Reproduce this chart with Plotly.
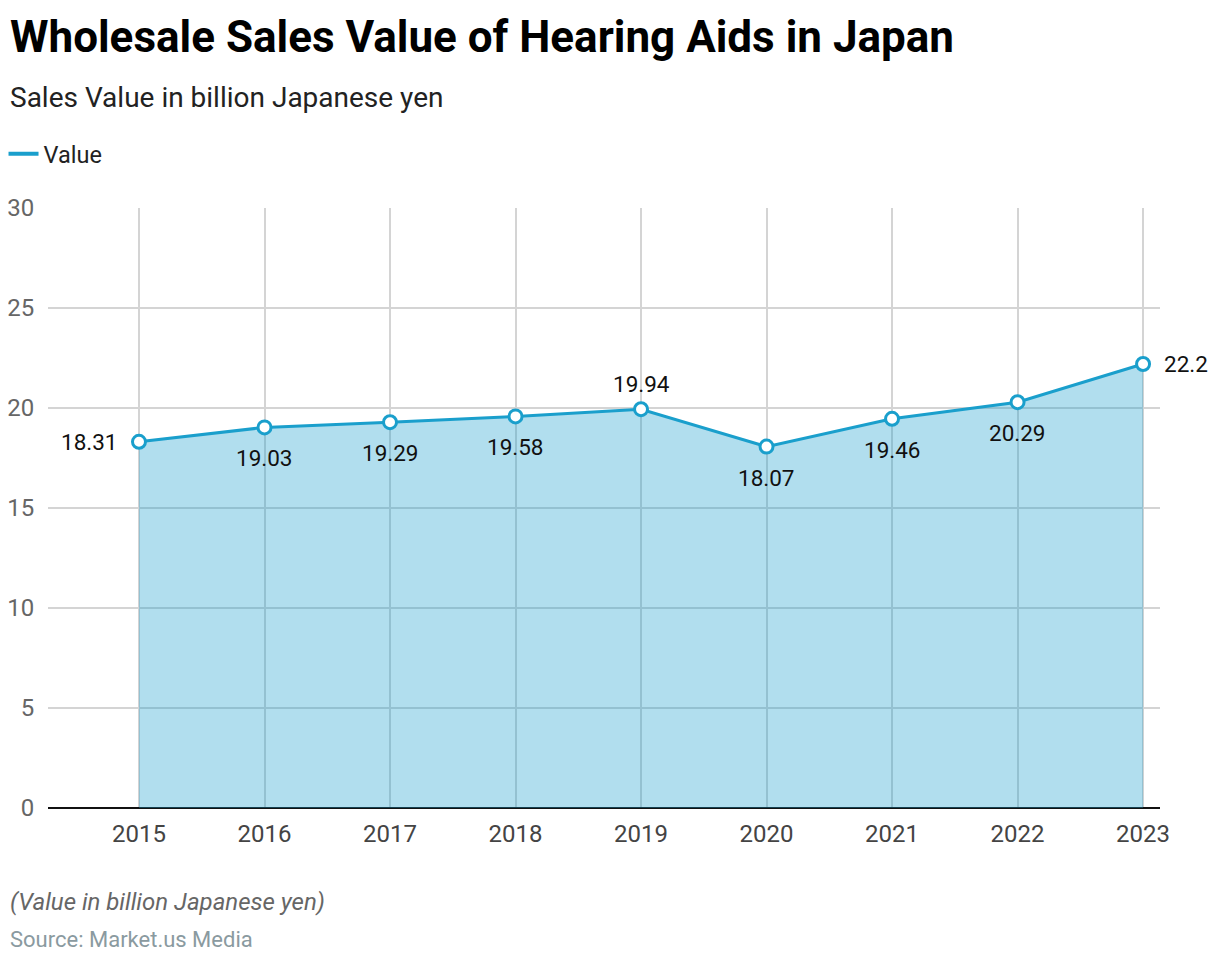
import plotly.graph_objects as go

years = [2015, 2016, 2017, 2018, 2019, 2020, 2021, 2022, 2023]
values = [18.31, 19.03, 19.29, 19.58, 19.94, 18.07, 19.46, 20.29, 22.2]
labels = ["18.31", "19.03", "19.29", "19.58", "19.94", "18.07", "19.46", "20.29", "22.2"]
label_side = ["left", "below", "below", "below", "above", "below", "below", "below", "right"]

LINE = "#1a9fcc"
FILL = "rgba(26,159,204,0.34)"

PW = 1112  # plot width px
PH = 600   # plot height px

fig = go.Figure()
fig.add_trace(go.Scatter(
    x=years, y=values, mode="lines+markers", name="Value", showlegend=False,
    line=dict(color=LINE, width=3),
    fill="tozeroy", fillcolor=FILL,
    marker=dict(size=13, color="white", line=dict(color=LINE, width=3)),
    cliponaxis=False,
))
fig.add_trace(go.Scatter(
    x=[None], y=[None], mode="lines", name="Value", showlegend=True,
    line=dict(color=LINE, width=4),
))

shift = {"left": (-19, 0, "right"), "right": (19, 0, "left"),
         "below": (0, -31, "center"), "above": (0, 25, "center")}
for x, y, t, s in zip(years, values, labels, label_side):
    dx, dy, xa = shift[s]
    fig.add_annotation(x=x, y=y, text=t, showarrow=False, xshift=dx, yshift=dy,
                       xanchor=xa, yanchor="middle",
                       font=dict(size=22.5, color="#111111", family="Roboto"))

fig.update_layout(
    width=1212, height=954,
    margin=dict(l=40, r=60, t=200, b=154, autoexpand=False),
    plot_bgcolor="white", paper_bgcolor="white",
    font=dict(family="Roboto", color="#333333"),
    showlegend=True,
    legend=dict(orientation="h", x=-0.040, xanchor="left", y=1 + (208 - 154) / PH, yanchor="middle",
                font=dict(size=23.5, color="#222222"), itemwidth=30,
                bgcolor="rgba(0,0,0,0)"),
    xaxis=dict(
        range=[2014.275, 2023.135], tickmode="array", tickvals=years,
        ticktext=[str(y) for y in years], automargin=False,
        showgrid=True, gridcolor="#d4d4d4", gridwidth=1.5,
        tickfont=dict(size=24, color="#444444"), ticks="outside", ticklen=4,
        tickcolor="rgba(0,0,0,0)", zeroline=False,
        showline=False,
    ),
    yaxis=dict(
        range=[0, 30], tickvals=[0, 5, 10, 15, 20, 25, 30], automargin=False,
        showgrid=True, gridcolor="#d4d4d4", gridwidth=1.5,
        tickfont=dict(size=24, color="#666666"), ticks="outside", ticklen=8, tickcolor="rgba(0,0,0,0)",
        zeroline=True, zerolinecolor="#111111", zerolinewidth=2,
    ),
)

fig.add_annotation(text="<b>Wholesale Sales Value of Hearing Aids in Japan</b>",
                   xref="paper", yref="paper", x=-40 / PW, y=1 + (208 - 37) / PH,
                   xanchor="left", yanchor="middle", showarrow=False,
                   font=dict(size=44, color="#000000", family="Roboto"))
fig.add_annotation(text="Sales Value in billion Japanese yen",
                   xref="paper", yref="paper", x=-40 / PW, y=1 + (208 - 98) / PH,
                   xanchor="left", yanchor="middle", showarrow=False,
                   font=dict(size=28, color="#222222", family="Roboto"))
fig.add_annotation(text="<i>(Value in billion Japanese yen)</i>",
                   xref="paper", yref="paper", x=-40 / PW, y=-(902 - 808) / PH,
                   xanchor="left", yanchor="middle", showarrow=False,
                   font=dict(size=24, color="#666666", family="Roboto"))
fig.add_annotation(text="Source: Market.us Media",
                   xref="paper", yref="paper", x=-40 / PW, y=-(939 - 808) / PH,
                   xanchor="left", yanchor="middle", showarrow=False,
                   font=dict(size=22, color="#8a9aa0", family="Roboto"))

fig.write_html("out.html")
